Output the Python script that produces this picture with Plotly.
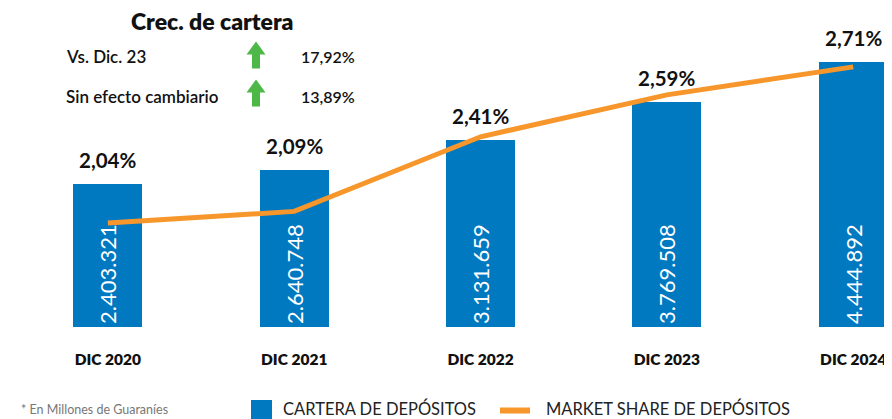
import plotly.graph_objects as go

categories = ["DIC 2020", "DIC 2021", "DIC 2022", "DIC 2023", "DIC 2024"]
deposits = [2403321, 2640748, 3131659, 3769508, 4444892]
deposit_labels = ["2.403.321", "2.640.748", "3.131.659", "3.769.508", "4.444.892"]
market_share = [2.04, 2.09, 2.41, 2.59, 2.71]
share_labels = ["2,04%", "2,09%", "2,41%", "2,59%", "2,71%"]
growth_title = "Crec. de cartera"
growth_labels = ["Vs. Dic. 23", "Sin efecto cambiario"]
growth_values = ["17,92%", "13,89%"]
legend_labels = ["CARTERA DE DEPÓSITOS", "MARKET SHARE DE DEPÓSITOS"]
footnote = "* En Millones de Guaraníes"

BLUE = "#0079C1"
ORANGE = "#F7962A"
GREEN = "#4DB848"
FONT = "Lato"

# the page body adds an 8px margin, so the figure is drawn 8px in
OFF = 8
FW, FH = 892 - OFF, 419 - OFF
MT, MB = 2, 92
PH = FH - MT - MB


def px(X):
    return (X - OFF) / FW


def py(Y):
    return (FH - MB - (Y - OFF)) / PH


fig = go.Figure()
fig.add_trace(go.Bar(
    x=categories, y=deposits, name=legend_labels[0],
    marker=dict(color=BLUE, line=dict(width=0)), width=0.37,
    text=deposit_labels, textposition="inside", textangle=-90,
    insidetextanchor="start",
    textfont=dict(color="white", size=22, family=FONT),
    hoverinfo="skip", showlegend=False,
))
fig.add_trace(go.Scatter(
    x=categories, y=market_share, yaxis="y2", mode="lines",
    name=legend_labels[1],
    line=dict(color=ORANGE, width=5),
    hoverinfo="skip", showlegend=False,
))

annotations = []
for c, v, lab in zip(categories, deposits, share_labels):
    annotations.append(dict(
        x=c, y=v, xref="x", yref="y", text=lab, showarrow=False,
        yanchor="middle", yshift=24,
        font=dict(size=20.5, color="#111111", family=FONT, weight=700),
    ))

annotations.append(dict(
    x=px(212), y=py(21), xref="paper", yref="paper", text=growth_title,
    showarrow=False, xanchor="center", yanchor="middle",
    font=dict(size=23, color="#111111", family=FONT, weight=800),
))
shapes = []
row_y = [56.5, 97]
arrow_y = [55, 93]
arrow_path = "M-4,-13.5 L4,-13.5 L4,0.5 L9.5,0.5 L0,13.5 L-9.5,0.5 L-4,0.5 Z"
for ry, ay, lab, val in zip(row_y, arrow_y, growth_labels, growth_values):
    annotations.append(dict(
        x=px(64), y=py(ry), xref="paper", yref="paper", text=lab,
        showarrow=False, xanchor="left", yanchor="middle",
        font=dict(size=17, color="#111111", family=FONT, weight=600),
    ))
    annotations.append(dict(
        x=px(299), y=py(ry), xref="paper", yref="paper", text=val,
        showarrow=False, xanchor="left", yanchor="middle",
        font=dict(size=16, color="#111111", family=FONT, weight=600),
    ))
    shapes.append(dict(
        type="path", xref="paper", yref="paper",
        xsizemode="pixel", ysizemode="pixel",
        xanchor=px(256), yanchor=py(ay),
        path=arrow_path, fillcolor=GREEN, line=dict(width=0),
    ))

# legend (drawn as swatches + labels)
LEG_Y = 410.5
shapes.append(dict(
    type="rect", xref="paper", yref="paper",
    x0=px(251), x1=px(272), y0=py(LEG_Y - 10.5), y1=py(LEG_Y + 10.5),
    fillcolor=BLUE, line=dict(width=0),
))
shapes.append(dict(
    type="line", xref="paper", yref="paper",
    x0=px(500), x1=px(530), y0=py(LEG_Y), y1=py(LEG_Y),
    line=dict(color=ORANGE, width=6),
))
for lx, lab in zip([281, 544], legend_labels):
    annotations.append(dict(
        x=px(lx), y=py(408), xref="paper", yref="paper", text=lab,
        showarrow=False, xanchor="left", yanchor="middle",
        font=dict(size=16.5, color="#222222", family=FONT),
    ))

annotations.append(dict(
    x=px(19), y=py(409), xref="paper", yref="paper",
    text=footnote, showarrow=False,
    xanchor="left", yanchor="middle",
    font=dict(size=12.5, color="#777777", family=FONT),
))

fig.update_layout(
    width=FW, height=FH,
    margin=dict(l=0, r=0, t=MT, b=MB),
    paper_bgcolor="white", plot_bgcolor="white",
    showlegend=False,
    xaxis=dict(
        type="category", range=[-0.536, 4.208],
        showgrid=False, zeroline=False, showline=False,
        ticks="outside", ticklen=18, tickcolor="rgba(0,0,0,0)",
        tickfont=dict(size=15.5, color="#111111", family=FONT, weight=800),
    ),
    yaxis=dict(range=[0, PH / 59.6 * 1e6], visible=False, showgrid=False),
    yaxis2=dict(range=[1.594, 2.954], overlaying="y", visible=False,
                showgrid=False),
    annotations=annotations,
    shapes=shapes,
    bargap=0,
)

fig.write_html("out.html")
